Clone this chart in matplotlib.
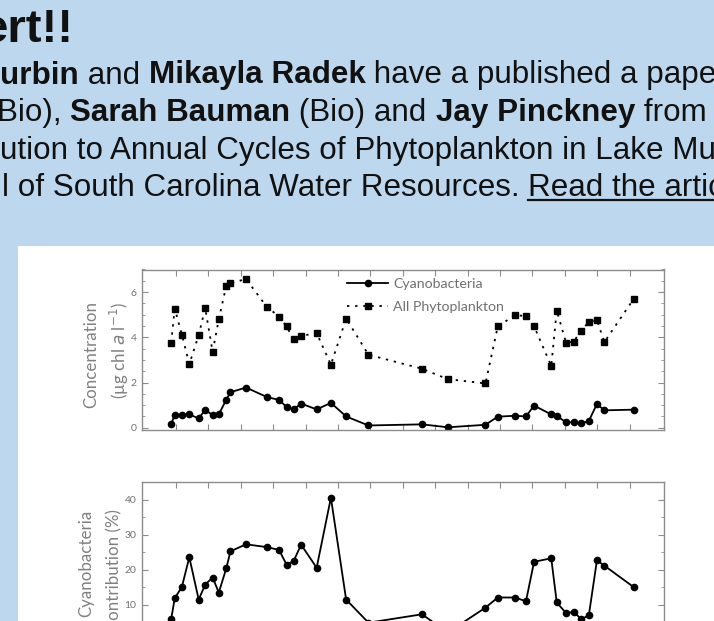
# %%
## Imports ##

import matplotlib

matplotlib.use("Agg")
import matplotlib.pyplot as plt
from matplotlib.patches import Rectangle
from matplotlib.ticker import MultipleLocator

# %%
## Data ##

# sample dates in months from the first tick
sample_month = [
    -0.15, -0.04, 0.18, 0.41, 0.70, 0.90, 1.13, 1.32, 1.55, 1.68, 2.16, 2.80,
    3.18, 3.41, 3.63, 3.86, 4.34, 4.78, 5.25, 5.94, 7.59, 8.39, 9.55, 9.93,
    10.47, 10.80, 11.05, 11.58, 11.75, 12.04, 12.27, 12.51, 12.74, 12.99, 13.22, 14.12,
]
cyano_conc = [
    0.17, 0.56, 0.58, 0.59, 0.41, 0.79, 0.56, 0.59, 1.24, 1.57, 1.78, 1.36,
    1.23, 0.92, 0.81, 1.07, 0.81, 1.10, 0.50, 0.10, 0.15, 0.02, 0.13, 0.49,
    0.53, 0.50, 0.98, 0.59, 0.52, 0.24, 0.24, 0.19, 0.30, 1.05, 0.77, 0.80,
]
phyto_conc = [
    3.76, 5.27, 4.12, 2.81, 4.10, 5.29, 3.36, 4.80, 6.28, 6.39, 6.58, 5.35,
    4.92, 4.48, 3.91, 4.06, 4.19, 2.79, 4.83, 3.23, 2.61, 2.15, 1.96, 4.48,
    4.99, 4.93, 4.49, 2.73, 5.18, 3.75, 3.81, 4.30, 4.68, 4.76, 3.79, 5.69,
]
cyano_pct = [
    5.8, 11.8, 15.0, 23.5, 11.4, 15.7, 17.7, 13.4, 20.3, 25.2, 27.2, 26.4,
    25.6, 21.4, 22.4, 27.1, 20.5, 40.5, 11.4, 4.8, 7.2, 2.0, 9.1, 12.0,
    12.0, 10.9, 22.2, 23.2, 10.6, 7.5, 7.9, 5.8, 6.9, 22.6, 21.1, 15.0,
]
month_ticks = list(range(15))

# page text (cut off at the screenshot edges)
title_text = "ert!!"
text_lines = [
    [("urbin", "bold"), (" and ", "normal"), ("Mikayla Radek", "bold"),
     (" have a published a paper", "normal")],
    [("Bio), ", "normal"), ("Sarah Bauman", "bold"), (" (Bio) and ", "normal"),
     ("Jay Pinckney", "bold"), (" from", "normal")],
    [("ution to Annual Cycles of Phytoplankton in Lake Murray", "normal")],
    [("l of South Carolina Water Resources. ", "normal"), ("Read the article", "link")],
]

# %%
## Layout helpers ##

W, H = 714, 621
BG = "#BDD7EE"
GREY = "#707070"
FRAME = "#8c8c8c"
PAGE_FONT = ["Liberation Sans", "DejaVu Sans"]
CHART_FONT = ["Lato", "DejaVu Sans"]


def fx(x):
    return x / W


def fy(y):
    return 1 - y / H


fig = plt.figure(figsize=(W / 100, H / 100), dpi=100)
fig.patch.set_facecolor(BG)
renderer = fig.canvas.get_renderer()

# white panel holding the figure image
fig.add_artist(Rectangle((fx(18), 0), 1 - fx(18), fy(246), transform=fig.transFigure,
                         facecolor="white", edgecolor="none", zorder=-5))

# %%
## Page text ##

fig.text(fx(73), fy(41.5), title_text, ha="right", va="baseline", fontsize=34,
         fontweight="bold", family=PAGE_FONT, color="#111111")


def run_width(s, weight, size):
    # width including trailing spaces: measure with a guard char
    t1 = fig.text(0, 0, s + "x", fontsize=size, fontweight=weight, family=PAGE_FONT)
    t2 = fig.text(0, 0, "x", fontsize=size, fontweight=weight, family=PAGE_FONT)
    w = t1.get_window_extent(renderer).width - t2.get_window_extent(renderer).width
    t1.remove()
    t2.remove()
    return w


line_starts = [0, -3, 0, 2]
baselines = [83.5, 121, 158.5, 195.5]
body_size = 22.6
for runs, x0, yb in zip(text_lines, line_starts, baselines):
    x = x0
    for s, style in runs:
        weight = "bold" if style == "bold" else "normal"
        fig.text(fx(x), fy(yb), s, ha="left", va="baseline", fontsize=body_size,
                 fontweight=weight, family=PAGE_FONT, color="#111111")
        w = run_width(s, weight, body_size)
        if style == "link":
            fig.add_artist(plt.Line2D([fx(x), fx(x + w)], [fy(yb + 4), fy(yb + 4)],
                                      color="#111111", lw=1.6))
        x += w

# %%
## Charts ##


def style_axes(ax):
    for sp in ax.spines.values():
        sp.set_color(FRAME)
        sp.set_linewidth(1.0)
    ax.set_xlim(-1.05, 15.06)
    ax.set_xticks(month_ticks)
    ax.set_xticklabels([])
    ax.tick_params(which="both", direction="in", top=True, right=True,
                   color=FRAME, labelcolor=GREY, labelsize=7.5, pad=4)
    ax.tick_params(which="major", length=4, width=0.8)
    ax.tick_params(which="minor", length=2.5, width=0.6)
    ax.tick_params(axis="x", which="minor", length=0)
    for lab in ax.get_yticklabels():
        lab.set_family(CHART_FONT)


ax1 = fig.add_axes([fx(142), fy(430), (664 - 142) / W, (430 - 269.5) / H])
ax1.plot(sample_month, cyano_conc, color="black", lw=1.3, marker="o", ms=4.5,
         label="Cyanobacteria")
ax1.plot(sample_month, phyto_conc, color="black", lw=1.3, ls=(0, (1.3, 3.2)),
         marker="s", ms=4.5, label="All Phytoplankton")
ax1.set_ylim(-0.1, 7.0)
ax1.set_yticks([0, 2, 4, 6])
ax1.yaxis.set_minor_locator(MultipleLocator(0.5))
style_axes(ax1)
leg = ax1.legend(loc="upper left", bbox_to_anchor=(0.393, 0.945), frameon=False,
                 borderpad=0, borderaxespad=0, handlelength=2.9, handletextpad=0.35,
                 labelspacing=0.75, prop={"family": CHART_FONT, "size": 10.2})
for t in leg.get_texts():
    t.set_color(GREY)

ax2 = fig.add_axes([fx(142), fy(643), (664 - 142) / W, (643 - 482) / H])
ax2.plot(sample_month, cyano_pct, color="black", lw=1.3, marker="o", ms=4.5)
ax2.set_ylim(-1, 45)
ax2.set_yticks([0, 10, 20, 30, 40])
ax2.yaxis.set_minor_locator(MultipleLocator(5))
style_axes(ax2)

# y axis titles
lab_kw = dict(rotation=90, ha="center", family=CHART_FONT, fontsize=12.2, color="#808080")
fig.text(fx(91), fy(355), "Concentration", va="center", **lab_kw)
fig.text(fx(119), fy(351), r"(µg chl $\it{a}$ l$^{-1}$)", va="center", **lab_kw)
fig.text(fx(86), fy(563.5), "Cyanobacteria", va="center", **lab_kw)
fig.text(fx(114), fy(509), "Contribution (%)", va="top", **lab_kw)

fig.savefig("out.png", dpi=100, facecolor=fig.get_facecolor())
